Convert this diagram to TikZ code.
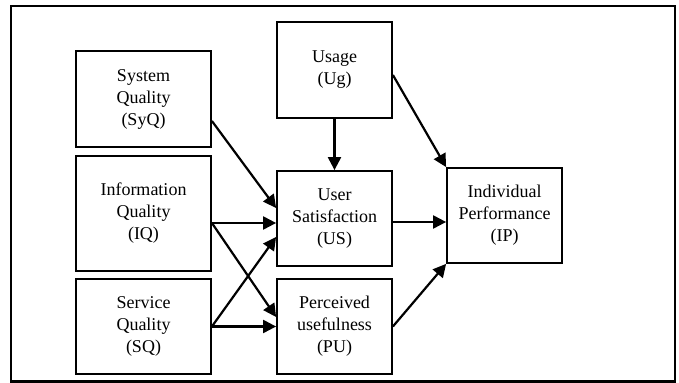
\documentclass[tikz,border=0pt]{standalone}
\usepackage{fontspec}
\setmainfont{Liberation Serif}
\usetikzlibrary{arrows.meta}
\begin{document}
\begin{tikzpicture}[>={Triangle[length=6.5pt,width=6.5pt]},x=0.5pt,y=-0.5pt,
		box/.style={draw,line width=0.9pt,align=center,inner sep=0pt,minimum width=57.5pt,minimum height=47.5pt,font=\fontsize{9}{11}\selectfont},
		widebox/.style={box,minimum width=67.5pt},
		link/.style={->,line width=1.1pt}]
		\useasboundingbox (0,0) rectangle (679,383);
		\draw[line width=1.3pt] (11,6) rectangle (675,381.5);
		\node[widebox,minimum height=48pt] (syq) at (143.5,99) {System\\Quality\\(SyQ)};
		\node[widebox,minimum height=57.5pt] (iq) at (143.5,213.5) {Information\\Quality\\(IQ)};
		\node[widebox] (sq) at (143.5,326.5) {Service\\Quality\\(SQ)};
		\node[box,minimum height=48pt] (ug) at (334.5,70) {Usage\\(Ug)};
		\node[box] (us) at (334.5,218.5) {User\\Satisfaction\\(US)};
		\node[box] (pu) at (334.5,326.5) {Perceived\\usefulness\\(PU)};
		\node[box] (ip) at (504.5,215.5) {Individual\\Performance\\(IP)};
		\draw[link] ([yshift=-11pt]syq.east) -- ([yshift=5.25pt]us.west);
		\draw[link] ([yshift=-4.75pt]iq.east) -- ([yshift=-2.25pt]us.west);
		\draw[link] ([yshift=-4.75pt]iq.east) -- ([yshift=4.75pt]pu.west);
		\draw[link] (sq.east) -- ([yshift=-9.25pt]us.west);
		\draw[link] (sq.east) -- (pu.west);
		\draw[link] (ug.south) -- (us.north);
		\draw[link] ([yshift=-2.5pt]ug.east) -- (ip.north west);
		\draw[link] ([yshift=-1.75pt]us.east) -- ([yshift=-3.25pt]ip.west);
		\draw[link] (pu.east) -- (ip.south west);
\end{tikzpicture}
\end{document}
